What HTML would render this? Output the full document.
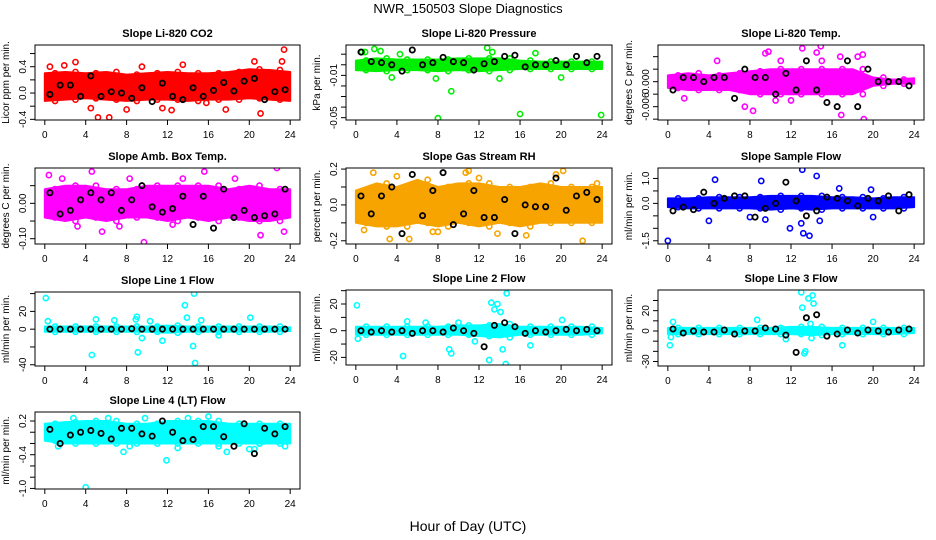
<!DOCTYPE html>
<html><head><meta charset="utf-8"><style>
html,body{margin:0;padding:0;background:#fff;}
svg{display:block;font-family:"Liberation Sans",sans-serif;}
</style></head><body>
<svg id="chart" width="936" height="540" viewBox="0 0 936 540" xmlns="http://www.w3.org/2000/svg">
<rect x="0" y="0" width="936" height="540" fill="#fff"/>
<text x="468" y="13" font-size="13" text-anchor="middle">NWR_150503  Slope Diagnostics</text>
<text x="468" y="531" font-size="14" text-anchor="middle">Hour of Day (UTC)</text>
</svg>
<script>
const xTicks=[0,4,8,12,16,20,24];
const bandHours=[0,2,4,6,8,10,12,14,16,18,20,22,24];
const blackHours=[0.5,1.5,2.5,3.5,4.5,5.5,6.5,7.5,8.5,9.5,10.5,11.5,12.5,13.5,14.5,15.5,16.5,17.5,18.5,19.5,20.5,21.5,22.5,23.5];

const co2Lo=[-0.12,-0.1,-0.08,-0.1,-0.12,-0.1,-0.1,-0.12,-0.1,-0.1,-0.08,-0.1,-0.12];
const co2Hi=[0.3,0.32,0.3,0.32,0.28,0.3,0.32,0.3,0.3,0.32,0.36,0.35,0.32];
const co2OutH=[5.2,6.3,4.5,12.4,17.7,21.1,23.4,23.2,3,11.5,1.9,13.5,20.5,9.5,15.8,0.5,8];
const co2OutV=[-0.37,-0.37,-0.23,-0.26,-0.25,-0.31,0.66,0.48,0.47,-0.23,0.42,0.43,0.48,0.4,-0.15,0.4,-0.25];
const co2Black=[-0.02,0.12,0.12,-0.05,0.26,-0.05,0.02,0.0,-0.08,0.08,-0.13,0.15,-0.05,-0.1,0.08,-0.05,0.04,0.16,0.03,0.18,0.22,-0.1,0.02,0.05];

const presLo=[-0.005,-0.006,-0.005,-0.005,-0.006,-0.005,-0.006,-0.005,-0.004,-0.004,-0.004,-0.004,-0.004];
const presHi=[0.004,0.006,0.005,0.005,0.005,0.006,0.006,0.006,0.004,0.003,0.003,0.003,0.003];
const presOutH=[1.8,2.4,0.6,4.3,8,9.3,16,23.9,3.5,7.8,14,12.8,13.3,20,17.5,0.9];
const presOutV=[0.015,0.013,0.012,0.010,-0.0505,-0.025,-0.0465,-0.0475,-0.012,-0.013,-0.013,0.016,0.012,-0.012,0.011,0.012];
const presBlack=[0.012,0.003,0.002,0.0,-0.006,0.014,0.0,0.002,0.007,0.003,0.002,-0.005,0.001,0.003,0.008,0.009,-0.002,0.0,0.0,0.004,0.0,0.008,0.002,0.008];

const tempLo=[-0.0015,-0.002,-0.002,-0.002,-0.003,-0.003,-0.003,-0.003,-0.003,-0.003,-0.001,-0.0005,-0.0005];
const tempHi=[0.0015,0.002,0.0015,0.002,0.0025,0.003,0.003,0.003,0.003,0.003,0.001,0.0005,0.0008];
const tempOutH=[1.6,4.8,8.3,9.5,9.8,11,13.1,14.5,14.9,16.8,16.9,19,19.1,7.5,10.5,12,18.5,15];
const tempOutV=[-0.004,0.005,-0.007,0.0068,0.0072,0.005,0.008,0.007,0.0085,0.006,-0.008,0.0065,-0.009,-0.006,-0.0045,-0.0045,0.006,0.005];
const tempBlack=[-0.002,0.001,0.001,0,0.001,0.001,-0.004,0.003,0.001,0.001,-0.003,0.002,-0.002,0.005,-0.002,-0.005,-0.006,0.005,-0.006,0.003,0,0,0,-0.001];

const ambLo=[-0.04,-0.05,-0.04,-0.05,-0.04,-0.04,-0.05,-0.04,-0.05,-0.04,-0.05,-0.05,-0.04];
const ambHi=[0.04,0.05,0.05,0.04,0.04,0.05,0.05,0.05,0.05,0.04,0.05,0.04,0.04];
const ambOutH=[0.4,1.7,4.6,9.7,15.6,21.1,23.4,22.7,5.6,7.3,3.2,12.5,18.6,8.3,13.5];
const ambOutV=[0.08,0.07,0.09,-0.11,0.09,-0.09,-0.08,0.1,-0.08,-0.065,-0.065,-0.06,0.07,0.07,0.07];
const ambBlack=[0.03,-0.03,-0.02,0.01,0.03,0.01,0.03,-0.02,0.01,0.05,-0.01,-0.025,-0.015,0.02,-0.06,0.02,-0.07,0.04,-0.04,-0.02,-0.04,-0.035,-0.03,0.04];

const rhLo=[-0.1,-0.12,-0.12,-0.1,-0.12,-0.1,-0.12,-0.1,-0.12,-0.1,-0.1,-0.1,-0.1];
const rhHi=[0.08,0.12,0.1,0.14,0.1,0.12,0.12,0.1,0.1,0.12,0.1,0.1,0.1];
const rhOutH=[1.7,3.3,5.2,10.7,11,20.2,22.1,23.5,4,8,13.8,16.6,7.5,19.5,0.8,12];
const rhOutV=[0.18,-0.19,-0.19,0.18,0.19,0.19,-0.2,0.12,0.16,-0.15,-0.16,-0.17,-0.15,0.17,-0.14,0.15];
const rhBlack=[0.05,-0.05,0.05,0.1,-0.16,0.17,-0.06,0.08,0.18,-0.11,-0.05,0.08,-0.07,-0.07,0.03,-0.16,0.0,-0.01,-0.01,0.15,-0.03,0.05,0.07,0.03];

const sfLo=[-0.15,-0.2,-0.2,-0.2,-0.2,-0.25,-0.2,-0.25,-0.2,-0.2,-0.2,-0.2,-0.15];
const sfHi=[0.2,0.2,0.25,0.25,0.25,0.3,0.3,0.3,0.25,0.25,0.2,0.25,0.25];
const sfOutH=[0,4.6,9.1,13.1,14.5,11.9,13,13.2,13.8,14.8,4,9.5,16.7,19.8,8,20];
const sfOutV=[-1.5,0.95,0.9,1.35,1.1,-1.0,-0.8,-1.2,-1.3,-0.7,-0.7,-0.65,0.6,0.55,-0.55,-0.55];
const sfBlack=[-0.3,-0.15,-0.25,0.45,0.0,0.2,0.3,0.3,-0.55,-0.2,0.0,0.85,0.1,-0.5,-0.3,0.25,0.2,0.1,-0.1,0.2,0.1,0.3,-0.3,0.35];

const l1Lo=[-3,-3,-3,-3,-3,-3,-4,-3,-3,-3,-3,-3,-2];
const l1Hi=[3,3,3,3,3,3,4,3,3,3,3,3,2];
const l1OutH=[0.1,4.6,5,6.8,9,9.1,9.5,11.5,13.7,13.9,14.5,14.7,14.6,15.3,20.1,0.3,8.9,10.3,17];
const l1OutV=[35,-29,11,10,14,-26,-10,-13,27,13,-19,-38,40,10,13,9,11,9,-7];
const l1Black=[0,0,0,0,0,0,0,0,0.5,0,0,0,0,0,0,0,0,0,0,0,0,0,0,0];

const l2Lo=[-3,-3,-3,-3,-3,-3,-4,-5,-3,-3,-3,-3,-2];
const l2Hi=[3,3,3,3,3,4,4,5,3,3,3,3,2];
const l2OutH=[0.1,0.2,4.6,5,9.1,9.3,11.6,13,13.2,13.5,13.8,14.1,14.3,14.6,14.7,17,20.1,6.8,10];
const l2OutV=[19,-6,-19,7,-14,-17,-8,-22,21,16,20,14,-14,-25,28,-11,8,6,6];
const l2Black=[0,-1,0,-1,0,-2,0,0,-1,2,0,-2,-12,4,6,3,-2,0,-1,0,1,0,1,0];

const l3Lo=[-3,-3,-3,-3,-3,-3,-3,-4,-3,-3,-3,-3,-2];
const l3Hi=[3,3,3,3,3,3,4,4,3,3,3,3,3];
const l3OutH=[0.2,0.3,0.5,8.7,13,13.1,13.3,13.7,13.9,14.1,14.2,17,20,11.5,14,13.4];
const l3OutV=[-14,-6,9,11,38,23,-22,32,7,35,27,-14,9,-8,-7,-20];
const l3Black=[2,-2,0,-1,-1,1,-3,0,0,3,2,-4,-21,13,16,-5,-3,1,-2,1,0,-1,1,2];

const l4Lo=[-0.15,-0.2,-0.2,-0.2,-0.2,-0.2,-0.2,-0.2,-0.2,-0.2,-0.2,-0.2,-0.2];
const l4Hi=[0.15,0.18,0.2,0.2,0.15,0.15,0.2,0.2,0.2,0.15,0.15,0.15,0.15];
const l4OutH=[4,6.2,11.9,1.3,2.8,7.7,9.8,13,17,17.8,20,20.5,21,23.5,14,16,8.3];
const l4OutV=[-0.98,0.25,-0.5,-0.25,0.25,-0.35,0.25,-0.28,-0.25,-0.35,-0.3,-0.3,-0.2,-0.25,0.25,0.28,-0.25];
const l4Black=[0.05,-0.2,-0.05,0.0,0.03,-0.02,-0.12,0.07,0.07,-0.03,-0.07,0.2,0.0,-0.15,-0.13,0.1,0.1,-0.08,-0.25,0.15,-0.38,0.07,-0.03,0.1];

const NS="http://www.w3.org/2000/svg";
const svg=document.getElementById('chart');
function mk(tag,attrs,parent){const e=document.createElementNS(NS,tag);for(const k in attrs)e.setAttribute(k,attrs[k]);(parent||svg).appendChild(e);return e;}

const panels=[
 {key:'co2',title:'Slope Li-820 CO2',ylab:'Licor ppm per min.',col:0,top:45,bot:120,vt:0.73,vb:-0.41,ticks:[-0.4,-0.2,0,0.2,0.4,0.6],labs:{'-0.4':'-0.4','0':'0.0','0.4':'0.4'},color:'#ff0000',lo:co2Lo,hi:co2Hi,oh:co2OutH,ov:co2OutV,bl:co2Black},
 {key:'pressure',title:'Slope Li-820 Pressure',ylab:'kPa per min.',col:1,top:45,bot:120,vt:0.0187,vb:-0.0522,ticks:[0.01,0,-0.01,-0.02,-0.03,-0.04,-0.05],labs:{'-0.01':'-0.01','-0.05':'-0.05'},color:'#00ee00',lo:presLo,hi:presHi,oh:presOutH,ov:presOutV,bl:presBlack},
 {key:'temp',title:'Slope Li-820 Temp.',ylab:'degrees C per min.',col:2,top:45,bot:120,vt:0.0088,vb:-0.0092,ticks:[0.006,0.003,0,-0.003,-0.006,-0.009],labs:{'0':'0.000','-0.006':'-0.006'},color:'#ff00ff',lo:tempLo,hi:tempHi,oh:tempOutH,ov:tempOutV,bl:tempBlack},
 {key:'amb',title:'Slope Amb. Box Temp.',ylab:'degrees C per min.',col:0,top:168,bot:244,vt:0.1,vb:-0.115,ticks:[0.05,0,-0.05,-0.1],labs:{'0':'0.00','-0.1':'-0.10'},color:'#ff00ff',lo:ambLo,hi:ambHi,oh:ambOutH,ov:ambOutV,bl:ambBlack},
 {key:'rh',title:'Slope Gas Stream RH',ylab:'percent per min.',col:1,top:168,bot:244,vt:0.206,vb:-0.218,ticks:[0.2,0.1,0,-0.1,-0.2],labs:{'0.2':'0.2','0':'0.0','-0.2':'-0.2'},color:'#f7a400',lo:rhLo,hi:rhHi,oh:rhOutH,ov:rhOutV,bl:rhBlack},
 {key:'sampleflow',title:'Slope Sample Flow',ylab:'ml/min per min.',col:2,top:168,bot:244,vt:1.42,vb:-1.63,ticks:[1,0.5,0,-0.5,-1,-1.5],labs:{'1':'1.0','0':'0.0','-1.5':'-1.5'},color:'#0000ff',lo:sfLo,hi:sfHi,oh:sfOutH,ov:sfOutV,bl:sfBlack},
 {key:'line1',title:'Slope Line 1 Flow',ylab:'ml/min per min.',col:0,top:292,bot:366,vt:41.8,vb:-41.4,ticks:[40,20,0,-20,-40],labs:{'20':'20','0':'0','-40':'-40'},color:'#00ffff',lo:l1Lo,hi:l1Hi,oh:l1OutH,ov:l1OutV,bl:l1Black},
 {key:'line2',title:'Slope Line 2 Flow',ylab:'ml/min per min.',col:1,top:290,bot:365,vt:30.5,vb:-25.7,ticks:[30,20,10,0,-10,-20],labs:{'20':'20','0':'0','-20':'-20'},color:'#00ffff',lo:l2Lo,hi:l2Hi,oh:l2OutH,ov:l2OutV,bl:l2Black},
 {key:'line3',title:'Slope Line 3 Flow',ylab:'ml/min per min.',col:2,top:290,bot:366,vt:40.3,vb:-34.4,ticks:[30,20,10,0,-10,-20,-30],labs:{'20':'20','0':'0','-30':'-30'},color:'#00ffff',lo:l3Lo,hi:l3Hi,oh:l3OutH,ov:l3OutV,bl:l3Black},
 {key:'line4',title:'Slope Line 4 (LT) Flow',ylab:'ml/min per min.',col:0,top:412,bot:489,vt:0.36,vb:-1.01,ticks:[0.2,0,-0.2,-0.4,-0.6,-0.8,-1.0],labs:{'0.2':'0.2','-0.4':'-0.4','-1':'-1.0'},color:'#00ffff',lo:l4Lo,hi:l4Hi,oh:l4OutH,ov:l4OutV,bl:l4Black}
];
const colL=[35,346,658], colR=[300,612,924];

panels.forEach(p=>{
 const L=colL[p.col], R=colR[p.col];
 const xs=h=>L+(h+0.96)/25.92*(R-L);
 const ys=v=>p.top+(p.vt-v)/(p.vt-p.vb)*(p.bot-p.top);
 const g=mk('g',{});
 
 
 const clip=mk('clipPath',{id:'clip-'+p.key},g);
 mk('rect',{x:L,y:p.top,width:R-L,height:p.bot-p.top},clip);
 const data=mk('g',{'clip-path':'url(#clip-'+p.key+')'},g);
 let pts=[];
 bandHours.forEach((h,i)=>pts.push(xs(h).toFixed(1)+','+ys(p.hi[i]).toFixed(1)));
 for(let i=bandHours.length-1;i>=0;i--)pts.push(xs(bandHours[i]).toFixed(1)+','+ys(p.lo[i]).toFixed(1));
 const band=mk('polygon',{points:pts.join(' '),fill:p.color,stroke:p.color,'stroke-width':2,'stroke-linejoin':'round'},data);
 
 
 bandHours.forEach((h,i)=>{
  if(h>=24) return;
  [p.hi[i],p.lo[i]].forEach(v=>{
   const c=mk('circle',{cx:xs(h+1),cy:ys(v),r:2.6,fill:'none',stroke:p.color,'stroke-width':1.6},data);
   
   
  });
 });
 p.oh.forEach((h,i)=>{
  const c=mk('circle',{cx:xs(h),cy:ys(p.ov[i]),r:2.6,fill:'none',stroke:p.color,'stroke-width':1.6},data);
  
  
 });
 blackHours.forEach((h,i)=>{
  const c=mk('circle',{cx:xs(h),cy:ys(p.bl[i]),r:2.6,fill:'none',stroke:'#000','stroke-width':1.8},data);
  
  
 });
 const box=mk('rect',{x:L,y:p.top,width:R-L,height:p.bot-p.top,fill:'none',stroke:'#000','stroke-width':1},g);
 
 
 const t=mk('text',{x:(L+R)/2,y:p.top-8,'font-size':11,'font-weight':'bold','text-anchor':'middle'},g);
 t.textContent=p.title;
 
 
 xTicks.forEach(h=>{
  mk('line',{x1:xs(h),x2:xs(h),y1:p.bot,y2:p.bot+5,stroke:'#000'},g);
  const tl=mk('text',{x:xs(h),y:p.bot+18,'font-size':10,'text-anchor':'middle'},g);
  tl.textContent=h;
  
  
 });
 p.ticks.forEach(v=>{
  const y=ys(v);
  mk('line',{x1:L-5,x2:L,y1:y,y2:y,stroke:'#000'},g);
  const lab=p.labs[String(v)];
  if(lab!==undefined){
   const tl=mk('text',{x:L-9,y:y,'font-size':10,'text-anchor':'middle',transform:'rotate(-90 '+(L-9)+' '+y+')'},g);
   tl.textContent=lab;
   
   
  }
 });
 const cy=(p.top+p.bot)/2, lx=L-26;
 const yl=mk('text',{x:lx,y:cy,'font-size':10,'text-anchor':'middle',transform:'rotate(-90 '+lx+' '+cy+')'},g);
 yl.textContent=p.ylab;
 
 
});
</script>
</body></html>
